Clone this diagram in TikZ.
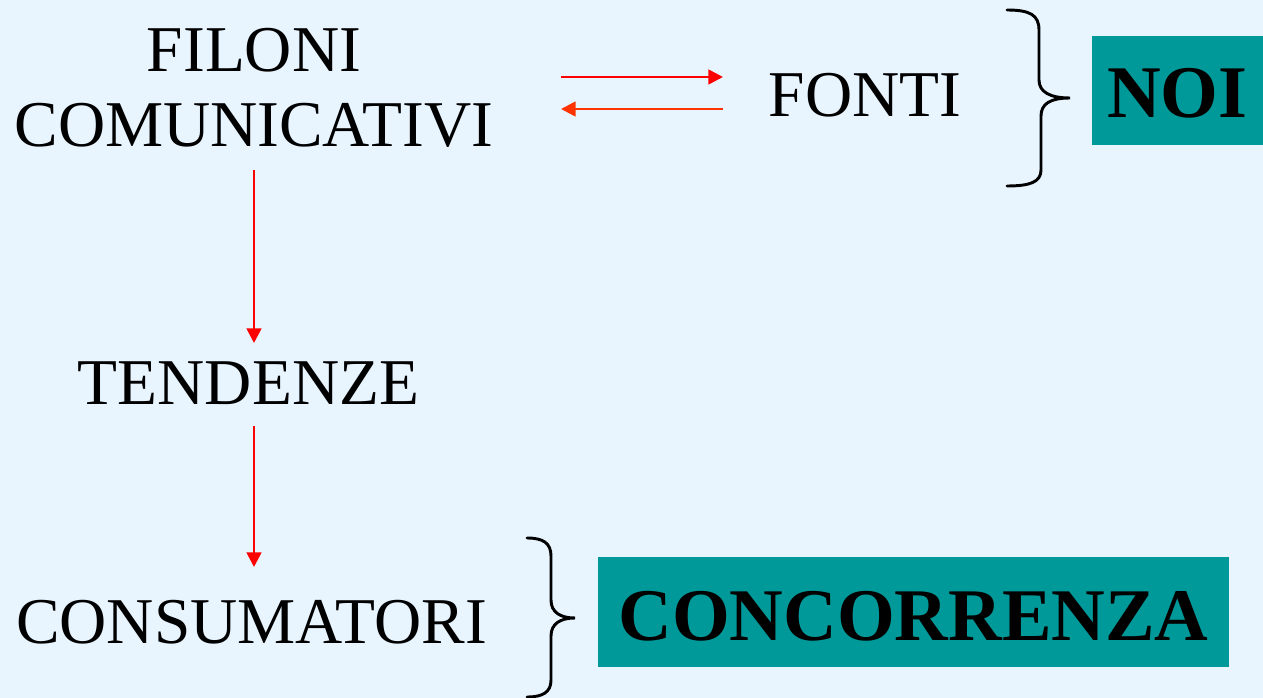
\documentclass[tikz,border=0pt]{standalone}
\usepackage{fontspec}
\setmainfont{Liberation Serif}
\usetikzlibrary{arrows.meta}
\definecolor{bgblue}{RGB}{232,245,255}
\definecolor{teal}{RGB}{0,153,153}
\definecolor{arrred}{RGB}{255,0,0}
\definecolor{arrorange}{RGB}{255,51,0}
\begin{document}
\begin{tikzpicture}[x=0.75pt,y=-0.75pt,
  lbl/.style={inner sep=0pt, font=\fontsize{49}{56}\selectfont, text=black},
  tagbox/.style={fill=teal, inner sep=0pt, font=\fontsize{55.7}{60}\selectfont\bfseries, text=black, text depth=0pt},
  conn/.style={line width=2pt, -{Triangle[length=11pt,width=11pt]}},
  brace/.style={line width=2.2pt, line cap=round, draw=black}]
\fill[bgblue] (0,0) rectangle (1263,698);
\useasboundingbox (0,0) rectangle (1263,698);
% labels
\node[lbl, anchor=base] (filoni) at (254,72) {FILONI};
\node[lbl, anchor=base] (comunicativi) at (254,147) {COMUNICATIVI};
\node[lbl, anchor=base] (fonti) at (865,117) {FONTI};
\node[lbl, anchor=base] (tendenze) at (248.5,404) {TENDENZE};
\node[lbl, anchor=base] (consumatori) at (251.5,643) {CONSUMATORI};
% boxes
\node[tagbox, minimum width=171*0.75pt, minimum height=109*0.75pt, text height=40pt] (noi) at (1177.5,90.5) {NOI};
\node[tagbox, minimum width=631*0.75pt, minimum height=110*0.75pt, text height=42pt] (concorrenza) at (913.5,612) {CONCORRENZA};
% arrow end points
\coordinate (a1s) at (561,77);
\coordinate (a1e) at (723,77);
\coordinate (a2s) at (723,109);
\coordinate (a2e) at (561,109);
\coordinate (v1s) at (254,170);
\coordinate (v1e) at (254,343);
\coordinate (v2s) at (254,426);
\coordinate (v2e) at (254,567);
\draw[conn, draw=arrred, fill=arrred] (a1s) -- (a1e);
\draw[conn, draw=arrorange, fill=arrorange] (a2s) -- (a2e);
\draw[conn, draw=arrred, fill=arrred] (v1s) -- (v1e);
\draw[conn, draw=arrred, fill=arrred] (v2s) -- (v2e);
% braces
\draw[brace] (1007,10) .. controls (1030,10) and (1039,15) .. (1039,30) -- (1039,80)
  .. controls (1039,92) and (1050,98) .. (1070,98)
  .. controls (1050,98) and (1041,104) .. (1041,116) -- (1041,170)
  .. controls (1041,182) and (1030,186) .. (1007,186);
\draw[brace] (527,538) .. controls (543,538) and (551,543) .. (551,556) -- (551,600)
  .. controls (551,612) and (560,618) .. (575,618)
  .. controls (560,618) and (551,624) .. (551,636) -- (551,680)
  .. controls (551,692) and (543,697) .. (527,697);
\end{tikzpicture}
\end{document}
